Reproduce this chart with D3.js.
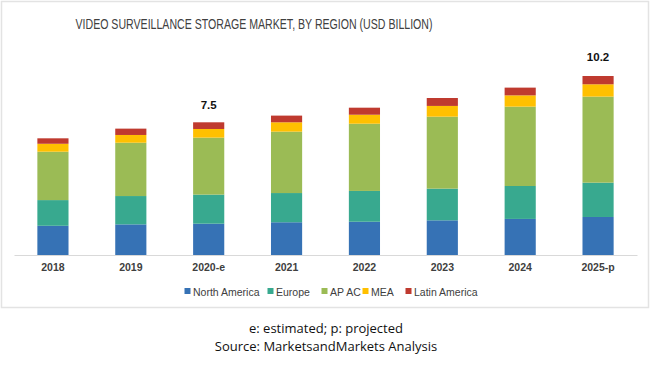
<!DOCTYPE html>
<html><head><meta charset="utf-8">
<script src="https://cdn.jsdelivr.net/npm/d3@7"></script>
<style>body{margin:0;background:#fff}svg{display:block}</style>
</head><body>
<svg id="c" width="650" height="366"></svg>
<script>
const years = ["2018","2019","2020-e","2021","2022","2023","2024","2025-p"];
const northAmerica = [1.66,1.74,1.78,1.86,1.89,1.97,2.05,2.16];
const europe = [1.46,1.61,1.65,1.66,1.75,1.80,1.87,1.95];
const apac = [2.75,3.03,3.24,3.49,3.82,4.09,4.51,4.89];
const mea = [0.45,0.44,0.49,0.53,0.51,0.61,0.64,0.70];
const latinAmerica = [0.31,0.36,0.38,0.38,0.40,0.45,0.44,0.47];
const seriesNames = ["North America","Europe","APAC","MEA","Latin America"];
const legendLabels = ["North America","Europe","AP AC","MEA","Latin America"];
const colors = ["#3672b5","#38a98f","#9bbb55","#ffc000","#bf3a2f"];
const totalLabels = [{year:"2020-e", text:"7.5", value:7.5},{year:"2025-p", text:"10.2", value:10.2}];

const seriesVals = [northAmerica, europe, apac, mea, latinAmerica];
const table = years.map((y,i)=>{const o={year:y}; seriesNames.forEach((s,k)=>o[s]=seriesVals[k][i]); return o;});

const svg = d3.select("#c");
svg.append("rect").attr("x",1.5).attr("y",1.5).attr("width",647).attr("height",306)
  .attr("fill","none").attr("stroke","#e3e3e3").attr("stroke-width",1.5);

svg.append("text").attr("x",254).attr("y",29).attr("text-anchor","middle")
  .attr("font-family","'Liberation Sans', Arial, sans-serif").attr("font-size",14.5)
  .attr("fill","#404040").attr("textLength",357).attr("lengthAdjust","spacingAndGlyphs")
  .text("VIDEO SURVEILLANCE STORAGE MARKET, BY REGION (USD BILLION)");

const x = d3.scaleBand().domain(years).range([14,637]).paddingInner(0.6).paddingOuter(0.3);
const y = d3.scaleLinear().domain([0,12]).range([255,255-17.6*12]);

const stack = d3.stack().keys(seriesNames)(table);
svg.append("g").selectAll("g").data(stack).join("g").attr("fill",(d,i)=>colors[i])
  .selectAll("rect").data(d=>d).join("rect")
  .attr("x",d=>x(d.data.year)).attr("width",x.bandwidth())
  .attr("y",d=>y(d[1])).attr("height",d=>y(d[0])-y(d[1]));

const ax = svg.append("g").attr("transform","translate(0,255)").call(d3.axisBottom(x).tickSize(0).tickPadding(9));
ax.select(".domain").attr("stroke","#d9d9d9");
ax.selectAll("text").attr("font-family","'Liberation Sans', Arial, sans-serif").attr("font-size",10.5)
  .attr("fill","#404040").attr("font-weight","bold");

svg.selectAll(".tot").data(totalLabels).join("text")
  .attr("x",d=>x(d.year)+x.bandwidth()/2).attr("y",d=>y(d.value)-14)
  .attr("text-anchor","middle").attr("font-family","'Liberation Sans', Arial, sans-serif")
  .attr("font-size",11.5).attr("font-weight","bold").attr("fill","#111").text(d=>d.text);

const lg = svg.append("g").attr("font-family","'Liberation Sans', Arial, sans-serif").attr("font-size",10.5).attr("fill","#404040");
const legX = [185,268,322,363,406];
legendLabels.forEach((l,i)=>{
  lg.append("rect").attr("x",legX[i]-0.5).attr("y",288).attr("width",6).attr("height",6).attr("fill",colors[i]);
  lg.append("text").attr("x",legX[i]+8).attr("y",295.5).text(l);
});

svg.append("text").attr("x",326).attr("y",333).attr("text-anchor","middle")
  .attr("font-family","'Open Sans', sans-serif").attr("font-size",13).attr("fill","#111")
  .text("e: estimated; p: projected");
svg.append("text").attr("x",326).attr("y",351).attr("text-anchor","middle")
  .attr("font-family","'Open Sans', sans-serif").attr("font-size",13).attr("fill","#111")
  .text("Source: MarketsandMarkets Analysis");
</script>
</body></html>
